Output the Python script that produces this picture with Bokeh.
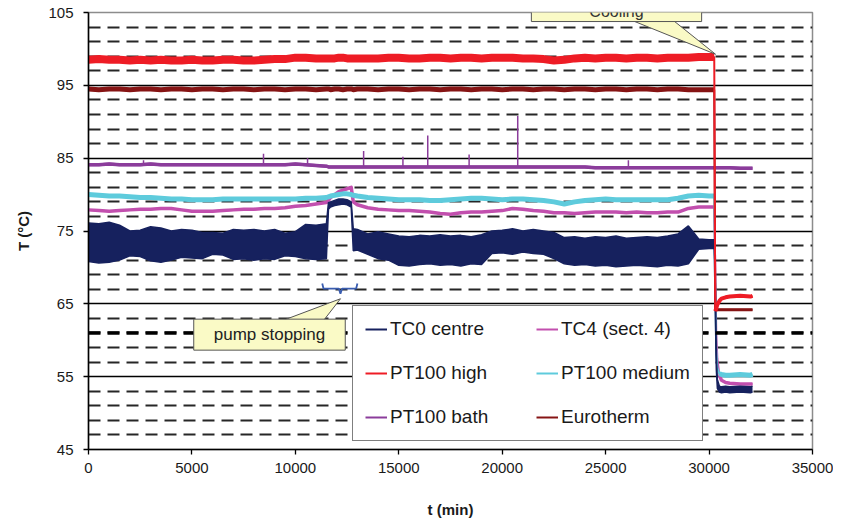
import numpy as np
from bokeh.plotting import figure
from bokeh.models import Range1d, FixedTicker, Legend, LegendItem, Label, Span
from bokeh.embed import file_html
from bokeh.resources import INLINE

# ---------------- data ----------------
t_min = [0, 500, 1000, 1500, 2000, 2500, 3000, 3500, 4000, 4500, 5000, 5500,
         6000, 6500, 7000, 7500, 8000, 8500, 9000, 9500, 10000, 10500, 11000, 11500,
         11600, 11700, 11900, 12100, 12300, 12500, 12700, 12800, 13000,
         13500, 14000, 14500, 15000, 15500, 16000, 16500, 17000, 17500, 18000, 18500,
         19000, 19500, 20000, 20500, 21000, 21500, 22000, 22500, 23000, 23500, 24000,
         24500, 25000, 25500, 26000, 26500, 27000, 27500, 28000, 28500, 29000, 29500, 30000,
         30250,
         30300, 30350, 30400, 30500, 30600, 30800, 31000, 31500, 32000, 32100]

tc0_low = [70.8, 70.6, 70.7, 71.0, 71.6, 71.5, 70.9, 70.7, 71.0, 71.4, 71.3, 71.2,
           71.8, 71.7, 71.1, 71.2, 71.0, 71.2, 71.1, 71.6, 71.5, 71.2, 71.1, 71.2,
           78.0, 78.3, 78.5, 78.6, 78.7, 78.6, 78.3, 72.3, 72.4,
           71.8, 71.2, 71.0, 70.3, 70.2, 70.4, 70.5, 70.3, 70.4, 70.2, 70.5,
           70.4, 71.9, 72.0, 71.8, 72.1, 71.9, 71.8, 71.2, 70.5, 70.3, 70.4,
           70.2, 70.3, 70.1, 70.2, 70.3, 70.2, 70.1, 70.3, 70.2, 70.5, 72.5, 72.6,
           72.6,
           64.0, 56.0, 53.4, 52.9, 52.8, 52.9, 52.8, 52.9, 52.8, 52.9]
tc0_high = [76.1, 76.0, 76.2, 75.8, 75.0, 75.1, 75.6, 75.4, 75.0, 75.2, 75.1, 74.8,
            74.8, 74.7, 75.2, 75.1, 75.2, 75.0, 75.2, 74.7, 74.9, 75.9, 75.8, 76.0,
            78.9, 79.0, 79.2, 79.4, 79.4, 79.3, 79.0, 75.3, 75.2,
            74.6, 74.9, 74.6, 74.3, 74.2, 74.4, 74.3, 74.5, 74.3, 74.4, 74.2,
            74.5, 75.0, 75.1, 75.3, 75.0, 75.2, 75.0, 74.8, 74.1, 74.2, 74.0,
            74.2, 74.1, 74.3, 74.0, 74.1, 74.2, 74.1, 74.3, 74.6, 75.7, 73.9, 73.8,
            73.8,
            68.0, 58.0, 54.6, 53.7, 53.6, 53.7, 53.6, 53.7, 53.6, 53.7]
tc4_sect4 = [77.9, 77.8, 77.7, 77.8, 77.9, 78.0, 78.0, 78.1, 78.1, 77.9, 77.7, 77.7,
             77.7, 77.8, 77.9, 78.0, 78.0, 78.1, 78.1, 78.2, 78.4, 78.5, 78.7, 78.9,
             79.2, 79.6, 80.0, 80.4, 80.6, 80.8, 81.0, 79.0, 78.6,
             78.2, 78.0, 77.9, 77.8, 77.8, 77.7, 77.6, 77.4, 77.3, 77.5, 77.6,
             77.6, 77.7, 77.8, 78.1, 78.0, 77.8, 77.7, 77.5, 77.5, 77.4, 77.5,
             77.6, 77.6, 77.6, 77.5, 77.6, 77.5, 77.5, 77.6, 77.6, 78.1, 78.3, 78.3,
             78.3,
             70.0, 61.0, 57.5, 55.2, 54.5, 54.2, 54.1, 54.0, 54.0, 54.0]
pt100_medium = [80.0, 79.9, 79.8, 79.8, 79.7, 79.6, 79.6, 79.5, 79.4, 79.4, 79.3, 79.3,
                79.3, 79.4, 79.4, 79.4, 79.4, 79.4, 79.4, 79.4, 79.4, 79.5, 79.5, 79.6,
                79.7, 79.8, 79.9, 80.0, 80.1, 80.1, 80.0, 79.9, 79.8,
                79.6, 79.5, 79.4, 79.3, 79.3, 79.3, 79.2, 79.2, 79.3, 79.4, 79.5,
                79.5, 79.4, 79.3, 79.4, 79.4, 79.3, 79.2, 79.0, 78.7, 79.0, 79.2,
                79.3, 79.4, 79.3, 79.3, 79.3, 79.3, 79.3, 79.3, 79.5, 79.8, 79.9, 79.8,
                79.8,
                67.0, 58.5, 56.2, 55.4, 55.3, 55.2, 55.2, 55.3, 55.2, 55.3]
pt100_high = [98.5, 98.6, 98.5, 98.5, 98.4, 98.5, 98.4, 98.5, 98.4, 98.4, 98.5, 98.4,
              98.4, 98.5, 98.5, 98.4, 98.4, 98.5, 98.6, 98.6, 98.8, 98.8, 98.7, 98.7,
              98.7, 98.7, 98.7, 98.8, 98.8, 98.7, 98.7, 98.7, 98.7,
              98.7, 98.7, 98.8, 98.8, 98.7, 98.7, 98.8, 98.8, 98.7, 98.8, 98.8,
              98.7, 98.8, 98.8, 98.8, 98.7, 98.7, 98.6, 98.4, 98.5, 98.7, 98.8,
              98.7, 98.8, 98.8, 98.7, 98.8, 98.8, 98.7, 98.8, 98.8, 98.8, 98.9, 98.9,
              98.9,
              64.0, 64.4, 64.9, 65.4, 65.7, 65.9, 66.0, 66.1, 66.0, 66.1]
eurotherm = [94.5, 94.4, 94.5, 94.5, 94.4, 94.5, 94.5, 94.4, 94.5, 94.5, 94.4, 94.5,
             94.5, 94.4, 94.5, 94.5, 94.4, 94.5, 94.5, 94.4, 94.5, 94.5, 94.4, 94.5,
             94.5, 94.4, 94.5, 94.5, 94.4, 94.5, 94.5, 94.4, 94.5,
             94.5, 94.4, 94.5, 94.5, 94.4, 94.5, 94.5, 94.4, 94.5, 94.5, 94.4,
             94.5, 94.5, 94.4, 94.5, 94.5, 94.4, 94.5, 94.5, 94.4, 94.5, 94.5,
             94.4, 94.5, 94.5, 94.4, 94.5, 94.5, 94.4, 94.5, 94.5, 94.4, 94.4, 94.4,
             94.4,
             64.3, 64.2, 64.2, 64.2, 64.2, 64.2, 64.2, 64.2, 64.2, 64.2]
pt100_bath = [84.1, 84.1, 84.2, 84.1, 84.1, 84.1, 84.2, 84.1, 84.1, 84.1, 84.1, 84.1,
              84.1, 84.1, 84.1, 84.1, 84.1, 84.1, 84.1, 84.1, 84.2, 84.1, 84.0, 83.9,
              83.8, 83.8, 83.8, 83.8, 83.8, 83.8, 83.8, 83.8, 83.8,
              83.8, 83.8, 83.8, 83.8, 83.8, 83.8, 83.8, 83.8, 83.8, 83.8, 83.8,
              83.8, 83.8, 83.8, 83.8, 83.8, 83.8, 83.8, 83.8, 83.8, 83.8, 83.8,
              83.7, 83.7, 83.7, 83.7, 83.7, 83.7, 83.7, 83.7, 83.7, 83.7, 83.7, 83.7,
              83.7,
              83.7, 83.7, 83.7, 83.7, 83.7, 83.7, 83.7, 83.6, 83.6, 83.6]
bath_spike_t = [2660, 8460, 10590, 13300, 15200, 16400, 18400, 20750, 26100]
bath_spike_top = [84.7, 85.6, 85.0, 86.0, 85.2, 88.1, 85.5, 90.8, 84.7]

x_ticks = [0, 5000, 10000, 15000, 20000, 25000, 30000, 35000]
y_major = [45, 55, 65, 75, 85, 95, 105]
y_minor = [47, 49, 51, 53, 57, 59, 61, 63, 67, 69, 71, 73, 77, 79, 81, 83,
           87, 89, 91, 93, 97, 99, 101, 103]

series_labels = ["TC0 centre", "PT100 high", "PT100 bath",
                 "TC4 (sect. 4)", "PT100 medium", "Eurotherm"]

# callouts (annotation geometry)
cooling_ptr_x = [26200, 28230, 30311]
cooling_ptr_y = [104.0, 104.0, 99.27]
pump_ptr_x = [9378, 11360, 12182]
pump_ptr_y = [62.7, 62.7, 65.7]
brace_x = [11300, 11360, 12100, 12180, 12260, 12940, 13000]
brace_y = [67.8, 67.1, 67.1, 66.4, 67.1, 67.1, 67.8]

# ---------------- styling ----------------
FONT = "Liberation Sans"
NAVY = "#16215e"
MAGENTA = "#c24fae"
CYAN = "#5ecbdc"
RED = "#ee1c25"
DARKRED = "#861414"
PURPLE = "#8b3c9b"
CALLOUT = "#fafac6"

p = figure(width=833, height=520, output_backend="svg", toolbar_location=None,
           x_range=Range1d(0, 35000), y_range=Range1d(45, 105),
           min_border_left=88, min_border_right=21, min_border_top=12,
           min_border_bottom=68)
p.outline_line_color = "#8c8c8c"
p.outline_line_width = 1.5

yt = FixedTicker(ticks=y_major, minor_ticks=y_minor)
p.xaxis.ticker = FixedTicker(ticks=x_ticks)
p.yaxis.ticker = yt
p.ygrid.ticker = yt
p.xgrid.visible = False
p.ygrid.grid_line_color = "black"
p.ygrid.grid_line_width = 1.3
p.ygrid.minor_grid_line_color = "#262626"
p.ygrid.minor_grid_line_width = 2
p.ygrid.minor_grid_line_dash = "12 7"

for ax in (p.xaxis[0], p.yaxis[0]):
    ax.axis_line_color = "black"
    ax.axis_line_width = 1.5
    ax.major_tick_line_color = "black"
    ax.major_tick_line_width = 1.3
    ax.major_tick_out = 5
    ax.major_tick_in = 0
    ax.minor_tick_line_color = None
    ax.major_label_text_font = FONT
    ax.major_label_text_font_size = "15px"
    ax.major_label_text_color = "#1a1a1a"
    ax.axis_label_text_font = FONT
    ax.axis_label_text_font_style = "bold"
    ax.axis_label_text_font_size = "15px"
    ax.axis_label_text_color = "#1a1a1a"
p.xaxis.axis_label = "t (min)"
p.yaxis.axis_label = "T (°C)"
p.xaxis.major_label_standoff = 8
p.xaxis.axis_label_standoff = 25
p.yaxis.major_label_standoff = 10
p.yaxis.axis_label_standoff = 13

p.add_layout(Span(location=61, dimension="width", line_color="black",
                  line_width=3.5, line_dash="12 7"))

t = np.array(t_min, dtype=float)
PRE = slice(0, 68)


def draw(vals, color, w_full, w_pre, w_post, post_start):
    v = np.array(vals, dtype=float)
    p.line(t, v, line_color=color, line_width=w_full)
    p.line(t[PRE], v[PRE], line_color=color, line_width=w_pre, line_join="round")
    p.line(t[post_start:], v[post_start:], line_color=color, line_width=w_post)


draw(tc4_sect4, MAGENTA, 2, 3.5, 3.5, 71)
draw(pt100_medium, CYAN, 2, 5, 5, 71)

lo = np.array(tc0_low)
hi = np.array(tc0_high)
p.varea(x=t, y1=lo, y2=hi, fill_color=NAVY)
p.line(t, lo, line_color=NAVY, line_width=1.5)
p.line(t, hi, line_color=NAVY, line_width=1.5)

draw(pt100_bath, PURPLE, 3, 3.5, 3.5, 68)
base = np.interp(bath_spike_t, t, np.array(pt100_bath))
p.segment(x0=bath_spike_t, y0=base, x1=bath_spike_t, y1=bath_spike_top,
          line_color=PURPLE, line_width=1.5)
draw(eurotherm, DARKRED, 2, 5, 3, 68)
draw(pt100_high, RED, 2, 8, 4, 68)

# callouts
p.patch(cooling_ptr_x, cooling_ptr_y, fill_color=CALLOUT, line_color="#555555",
        line_width=1)
p.patch(pump_ptr_x, pump_ptr_y, fill_color=CALLOUT, line_color="#555555",
        line_width=1)
p.line(brace_x, brace_y, line_color="#3a5db0", line_width=1.8)

p.add_layout(Label(x=25525, y=105.2, text="Cooling", text_align="center",
                   text_baseline="middle", text_font=FONT, text_font_size="16px",
                   text_color="#333333", background_fill_color=CALLOUT,
                   border_line_color="#555555", border_line_width=1,
                   padding=dict(left=58, right=58, top=2, bottom=2)))
p.add_layout(Label(x=8750, y=60.77, text="pump stopping", text_align="center",
                   text_baseline="middle", text_font=FONT, text_font_size="17px",
                   text_color="#222222", background_fill_color=CALLOUT,
                   border_line_color="#555555", border_line_width=1,
                   padding=dict(left=20, right=20, top=6, bottom=6)))

# legend (thin proxy glyphs, like the original legend)
colors = [NAVY, RED, PURPLE, MAGENTA, CYAN, DARKRED]
items = []
for lab, col in zip(series_labels, colors):
    r = p.line(x=[np.nan], y=[np.nan], line_color=col, line_width=2)
    items.append(LegendItem(label=lab, renderers=[r]))
legend = Legend(items=items, location=(264, 8), ncols=2, orientation="vertical",
                label_text_font=FONT, label_text_font_size="19px",
                label_text_color="#1a1a1a", label_height=20, glyph_height=20,
                glyph_width=22, label_standoff=3, spacing=22, padding=12,
                margin=0, label_width=124, border_line_color="black",
                border_line_width=1.5, background_fill_color="white",
                background_fill_alpha=1)
p.add_layout(legend)

open("out.html", "w").write(file_html(p, INLINE))
